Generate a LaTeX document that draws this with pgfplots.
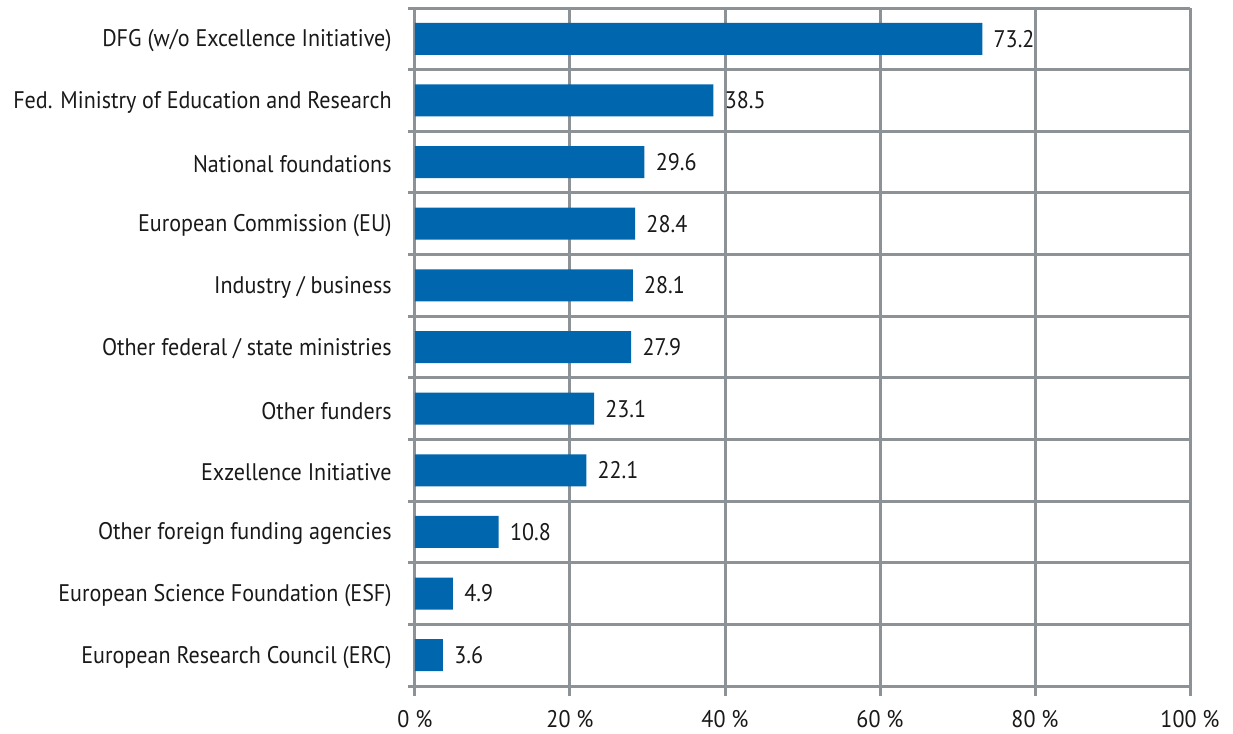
\documentclass[border=0pt]{standalone}
\usepackage{fontspec}
\setmainfont{PT Sans}[FakeStretch=0.92]
\usepackage{pgfplots}
\pgfplotsset{compat=1.18}
\definecolor{barblue}{RGB}{0,102,174}
\definecolor{gridgray}{RGB}{140,146,150}
\begin{document}
\begin{tikzpicture}
\path[use as bounding box] (0,0) rectangle (616.5pt,367pt);
\begin{axis}[
  at={(207.5pt,24pt)}, anchor=south west,
  scale only axis, width=387.5pt, height=339pt,
  xmin=0, xmax=100, ymin=-0.5, ymax=10.5,
  y dir=reverse,
  xbar, bar width=16pt,
  axis line style={draw=none},
  tick pos=left,
  xtick={0,20,40,60,80,100},
  xticklabels={0 \%,20 \%,40 \%,60 \%,80 \%,100 \%},
  ytick={0,...,10},
  yticklabels={DFG (w/o Excellence Initiative),Fed. Ministry of Education and Research,National foundations,European Commission (EU),Industry / business,Other federal / state ministries,Other funders,Exzellence Initiative,Other foreign funding agencies,European Science Foundation (ESF),European Research Council (ERC)},
  minor ytick={-0.5,0.5,...,10.5},
  xmajorgrids, yminorgrids,
  grid style={gridgray, line width=1.5pt},
  minor grid style={gridgray, line width=1.5pt},
  tick align=outside,
  major tick length=5pt, minor tick length=3.5pt,
  tick style={gridgray, line width=1.5pt},
  major y tick style={draw=none},
  /pgf/number format/assume math mode=true,
  /pgf/number format/.cd, fixed, fixed zerofill, precision=1, /pgfplots/.cd,
  ticklabel style={font=\fontsize{12}{14}\selectfont, text=black!90},
  yticklabel style={inner sep=0pt, xshift=-6.5pt, yshift=-1pt},
  xticklabel style={inner sep=0pt, yshift=-7pt},
  nodes near coords,
  nodes near coords align=horizontal,
  point meta=explicit,
  every node near coord/.append style={anchor=west, inner sep=0pt, xshift=5.5pt, font=\fontsize{12}{14}\selectfont, text=black!90},
]
\addplot[fill=barblue, draw=none] coordinates {
(73.2,0) [73.2] (38.5,1) [38.5] (29.6,2) [29.6] (28.4,3) [28.4] (28.1,4) [28.1] (27.9,5) [27.9] (23.1,6) [23.1] (22.1,7) [22.1] (10.8,8) [10.8] (4.9,9) [4.9] (3.6,10) [3.6]
};
\end{axis}
\end{tikzpicture}
\end{document}
